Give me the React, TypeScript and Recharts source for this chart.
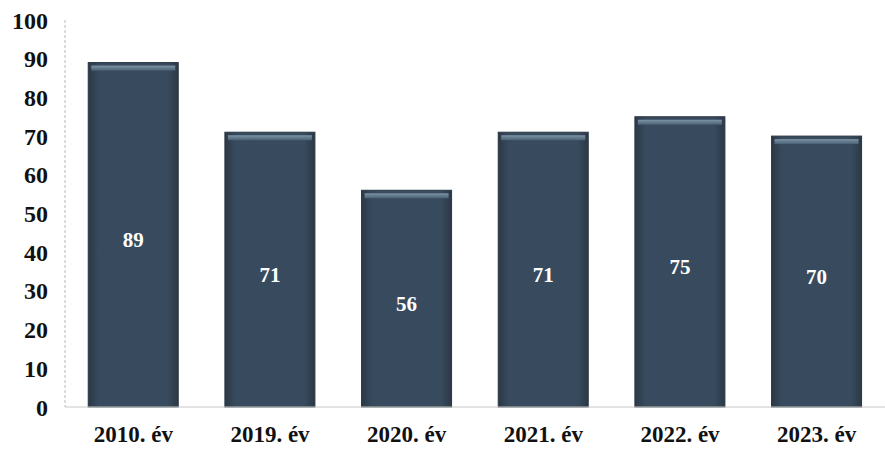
import { BarChart, Bar, XAxis, YAxis, LabelList } from "recharts";

const years = ["2010. év", "2019. év", "2020. év", "2021. év", "2022. év", "2023. év"];
const values = [89, 71, 56, 71, 75, 70];
const yTicks = [0, 10, 20, 30, 40, 50, 60, 70, 80, 90, 100];

const data = years.map((year, i) => ({ year, value: values[i] }));

const font = "'Liberation Serif', 'Times New Roman', serif";

const BevelBar = (props: any) => {
  const { x, y, width, height } = props;
  if (!height || height <= 0) return null;
  return (
    <g>
      <rect x={x} y={y} width={width} height={height} fill="url(#barBody)" />
      <rect x={x + 3} y={y + 3} width={width - 6} height={5} fill="url(#barTop)" />
      <rect x={x} y={y} width={width} height={height} fill="none" stroke="#2a3643" strokeWidth={1} />
    </g>
  );
};

const App = () => {
  return (
    <div style={{ position: "absolute", left: 0, top: 0, background: "#fff" }}>
      <BarChart
        width={885}
        height={452}
        data={data}
        margin={{ top: 20, right: 0, bottom: 15, left: 0 }}
        barCategoryGap="17%"
      >
        <defs>
          <linearGradient id="barBody" x1="0" y1="0" x2="1" y2="0">
            <stop offset="0%" stopColor="#2b3846" />
            <stop offset="12%" stopColor="#384b5e" />
            <stop offset="88%" stopColor="#384b5e" />
            <stop offset="100%" stopColor="#2b3846" />
          </linearGradient>
          <linearGradient id="barTop" x1="0" y1="0" x2="0" y2="1">
            <stop offset="0%" stopColor="#7d93a6" />
            <stop offset="100%" stopColor="#4a6073" />
          </linearGradient>
        </defs>
        <XAxis
          dataKey="year"
          height={30}
          axisLine={{ stroke: "#c8c8c8" }}
          tickLine={false}
          tick={{ fill: "#111", fontSize: 23, fontWeight: 700, fontFamily: font }}
          tickMargin={13}
        />
        <YAxis
          domain={[0, 100]}
          ticks={yTicks}
          interval={0}
          width={65}
          axisLine={{ stroke: "#b8b8b8", strokeDasharray: "3 2" }}
          tickLine={false}
          tick={{ fill: "#111", fontSize: 24, fontWeight: 700, fontFamily: font }}
          tickMargin={11}
        />
        <Bar dataKey="value" shape={BevelBar} isAnimationActive={false}>
          <LabelList
            dataKey="value"
            position="center"
            fill="#ffffff"
            fontSize={21}
            fontWeight={700}
            fontFamily={font}
            dy={5}
          />
        </Bar>
      </BarChart>
    </div>
  );
};

export default App;
